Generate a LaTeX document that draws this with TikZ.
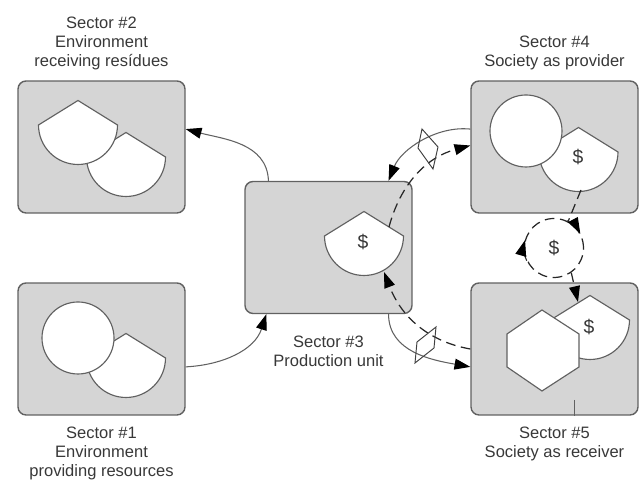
\documentclass[tikz,border=0pt]{standalone}
\usepackage{fontspec}
\setmainfont{Liberation Sans}
\usetikzlibrary{positioning, arrows.meta}

\definecolor{boxgray}{gray}{0.835}
\definecolor{linegray}{gray}{0.38}
\definecolor{textgray}{gray}{0.22}

% one sector blob: centre of its arc at (#1,#2)
\newcommand{\sectorblob}[2]{\draw[blob] (#1,#2) ++(-39.5,0) -- ++(39.5,24.5) -- ++(39.5,-24.5) arc (0:-180:39.5) -- cycle;}

\begin{document}
\begin{tikzpicture}[
    x=0.02cm, y=0.02cm,
    sectorbox/.style={rectangle, draw=linegray, line width=0.8pt, rounded corners=0.16cm, fill=boxgray, minimum width=3.34cm, minimum height=2.64cm},
    blob/.style={draw=linegray, line width=0.65pt, fill=white},
    caption/.style={align=center, text=textgray, font=\fontsize{9.4}{10.9}\selectfont},
    money/.style={text=textgray, font=\fontsize{11}{13}\selectfont, inner sep=0pt},
    arrow/.style={-{Triangle[length=9pt,width=6.2pt,fill=black,color=black]}, draw=linegray, line width=0.6pt},
    flow/.style={dash pattern=on 5.5pt off 3.2pt, draw=black!85, line width=0.7pt},
    valve/.style={draw=black!75, line width=0.55pt}
]

    \useasboundingbox (0,0) rectangle (640,482);

    % Sector boxes
    \node[sectorbox] (box1) at (101.5,133) {};
    \node[sectorbox] (box2) at (101.5,335) {};
    \node[sectorbox] (box3) at (328.5,234.5) {};
    \node[sectorbox] (box4) at (554.5,335) {};
    \node[sectorbox] (box5) at (554.5,133) {};

    % Labels
    \node[caption, below=0.1cm of box1] (label1) {Sector \#1\\Environment\\providing resources};
    \node[caption, above=0.08cm of box2] (label2) {Sector \#2\\Environment\\receiving resídues};
    \node[caption, below=0.31cm of box3] (label3) {Sector \#3\\Production unit};
    \node[caption, above=0.08cm of box4] (label4) {Sector \#4\\Society as provider};
    \node[caption, below=0.1cm of box5] (label5) {Sector \#5\\Society as receiver};

    % Blobs of sector #2
    \sectorblob{126}{325}
    \sectorblob{78}{357}

    % Blobs of sector #1
    \sectorblob{126}{124}
    \draw[blob] (78,144) circle (36);

    % Blobs of sector #3
    \sectorblob{364}{246}
    \node[money] (money3) at (363,240) {\$};

    % Blobs of sector #4
    \sectorblob{578.5}{330}
    \draw[blob] (526,351) circle (36);
    \node[money] (money4) at (578,325) {\$};

    % Blobs of sector #5
    \sectorblob{590}{162}
    \draw[blob] (542,172) -- (579,148) -- (579,115) -- (542,91) -- (507,115) -- (507,148) -- cycle;
    \node[money] (money5) at (589,155) {\$};

    % Money circle
    \node[circle, draw=black!85, line width=0.7pt, dash pattern=on 5.5pt off 3.2pt, minimum size=1.18cm, money] (cash) at (554,234) {\$};
    \draw[arrow, draw=black!85] (cash.65) arc (65:28:29.5);
    \draw[arrow, draw=black!85] (cash.205) arc (205:164:29.5);

    % Free ends on the blobs
    \coordinate (pay3a) at (389,255);
    \coordinate (pay3b) at (384,210);
    \coordinate (pay4) at (581,292);
    \coordinate (pay5) at (578,180);
    \coordinate (tick5) at (574,82);

    % Solid connections
    \draw[arrow] (box1.-12) to[out=3, in=-108] (box3.-133);
    \draw[arrow] (box3.132) to[out=92, in=-15] (box2.12);
    \draw[arrow] (box4.168) to[out=174, in=68, looseness=0.9] (box3.48);
    \draw[arrow] (box3.-48) to[out=-90, in=170] (box5.192);
    \draw[line width=0.5pt, draw=linegray] (tick5) -- (tick5 |- box5.south);

    % Dashed connections
    \draw[arrow, flow] (pay3a) to[out=75, in=195] (box4.179);
    \draw[arrow, flow] (box5.180) to[out=170, in=-69] (pay3b);
    \draw[flow] (pay4) -- (cash.62);
    \draw[arrow, flow] (cash.-55) -- (pay5);

    % Valves
    \draw[valve] (422,353) -- (438,335) -- (433,313) -- (418,334) -- cycle;
    \draw[valve] (436,155) -- (434,134) -- (415,119) -- (417,140) -- cycle;

\end{tikzpicture}
\end{document}
